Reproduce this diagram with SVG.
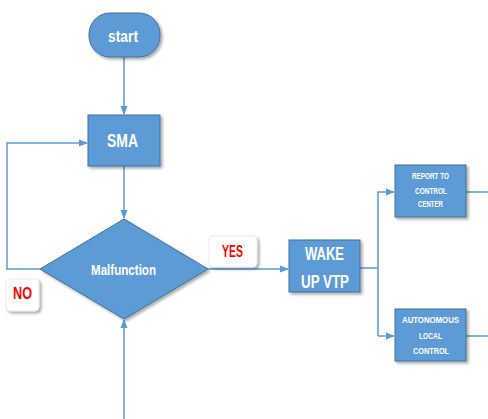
<svg xmlns="http://www.w3.org/2000/svg" width="488" height="419" viewBox="0 0 488 419">
  <defs>
    <filter id="shadow" x="-20%" y="-20%" width="150%" height="150%">
      <feGaussianBlur in="SourceAlpha" stdDeviation="1.5"/>
      <feOffset dx="2" dy="2" result="b"/>
      <feComponentTransfer><feFuncA type="linear" slope="0.35"/></feComponentTransfer>
      <feMerge><feMergeNode/><feMergeNode in="SourceGraphic"/></feMerge>
    </filter>
    <marker id="arrow" viewBox="0 0 10 10" refX="9" refY="5" markerWidth="6" markerHeight="6" orient="auto">
      <path d="M0,1 L10,5 L0,9 z" fill="#5B9BD5"/>
    </marker>
  </defs>
  <style>
    .node { fill: #5B9BD5; stroke: #41719C; stroke-width: 1; filter: url(#shadow); }
    .tag { fill: #FFFFFF; stroke: #E4E4E4; stroke-width: 0.8; filter: url(#shadow); }
    .label { fill: #FFFFFF; font-family: "Liberation Sans", Arial, sans-serif; font-weight: bold; text-anchor: middle; }
    .red { fill: #FF0000; font-family: "Liberation Sans", Arial, sans-serif; font-weight: bold; text-anchor: middle; font-size: 17px; }
    .wire { fill: none; stroke: #5B9BD5; stroke-width: 1.5; }
  </style>
  <rect width="488" height="419" fill="#FFFFFF"/>

  <g id="connectors">
    <path class="wire" d="M124,57 V114" marker-end="url(#arrow)"/>
    <path class="wire" d="M124,166 V218" marker-end="url(#arrow)"/>
    <path class="wire" d="M40,269 H7 V143 H87" marker-end="url(#arrow)"/>
    <path class="wire" d="M124,419 V320" marker-end="url(#arrow)"/>
    <path class="wire" d="M208,269 H288" marker-end="url(#arrow)"/>
    <path class="wire" d="M360,268 H378"/>
    <path class="wire" d="M378,336 V192 H394" marker-end="url(#arrow)"/>
    <path class="wire" d="M378,336 H394" marker-end="url(#arrow)"/>
    <path class="wire" d="M466,192 H488"/>
    <path class="wire" d="M466,336 H488"/>
  </g>

  <g id="start">
    <rect class="node" x="89" y="13" width="71" height="44" rx="21" ry="21"/>
    <text class="label" x="123" y="42" font-size="17" textLength="30" lengthAdjust="spacingAndGlyphs">start</text>
  </g>

  <g id="sma">
    <rect class="node" x="88" y="115" width="72" height="51"/>
    <text class="label" x="122.5" y="147" font-size="19" textLength="31" lengthAdjust="spacingAndGlyphs">SMA</text>
  </g>

  <g id="malfunction">
    <polygon class="node" points="124,219 208,269 124,319 40,269"/>
    <text class="label" x="123.5" y="275" font-size="15" textLength="65" lengthAdjust="spacingAndGlyphs">Malfunction</text>
  </g>

  <g id="no-tag">
    <rect class="tag" x="6" y="279" width="33" height="32" rx="4"/>
    <text class="red" x="22.5" y="299" textLength="19" lengthAdjust="spacingAndGlyphs">NO</text>
  </g>

  <g id="yes-tag">
    <rect class="tag" x="209" y="236" width="48" height="31" rx="4"/>
    <text class="red" x="232.5" y="257" textLength="21" lengthAdjust="spacingAndGlyphs">YES</text>
  </g>

  <g id="wake-up-vtp">
    <rect class="node" x="289" y="240" width="71" height="52"/>
    <text class="label" x="324.5" y="260" font-size="18" textLength="39" lengthAdjust="spacingAndGlyphs">WAKE</text>
    <text class="label" x="325" y="288" font-size="18" textLength="48" lengthAdjust="spacingAndGlyphs">UP VTP</text>
  </g>

  <g id="report">
    <rect class="node" x="395" y="165" width="71" height="52"/>
    <text class="label" x="430.5" y="179" font-size="9" textLength="37" lengthAdjust="spacingAndGlyphs">REPORT TO</text>
    <text class="label" x="431" y="194" font-size="9" textLength="32" lengthAdjust="spacingAndGlyphs">CONTROL</text>
    <text class="label" x="430.5" y="207" font-size="9" textLength="25" lengthAdjust="spacingAndGlyphs">CENTER</text>
  </g>

  <g id="autonomous">
    <rect class="node" x="395" y="309" width="71" height="52"/>
    <text class="label" x="430.5" y="323" font-size="9" textLength="57" lengthAdjust="spacingAndGlyphs">AUTONOMOUS</text>
    <text class="label" x="430.5" y="339" font-size="9" textLength="23" lengthAdjust="spacingAndGlyphs">LOCAL</text>
    <text class="label" x="431" y="354" font-size="9" textLength="36" lengthAdjust="spacingAndGlyphs">CONTROL</text>
  </g>
</svg>
